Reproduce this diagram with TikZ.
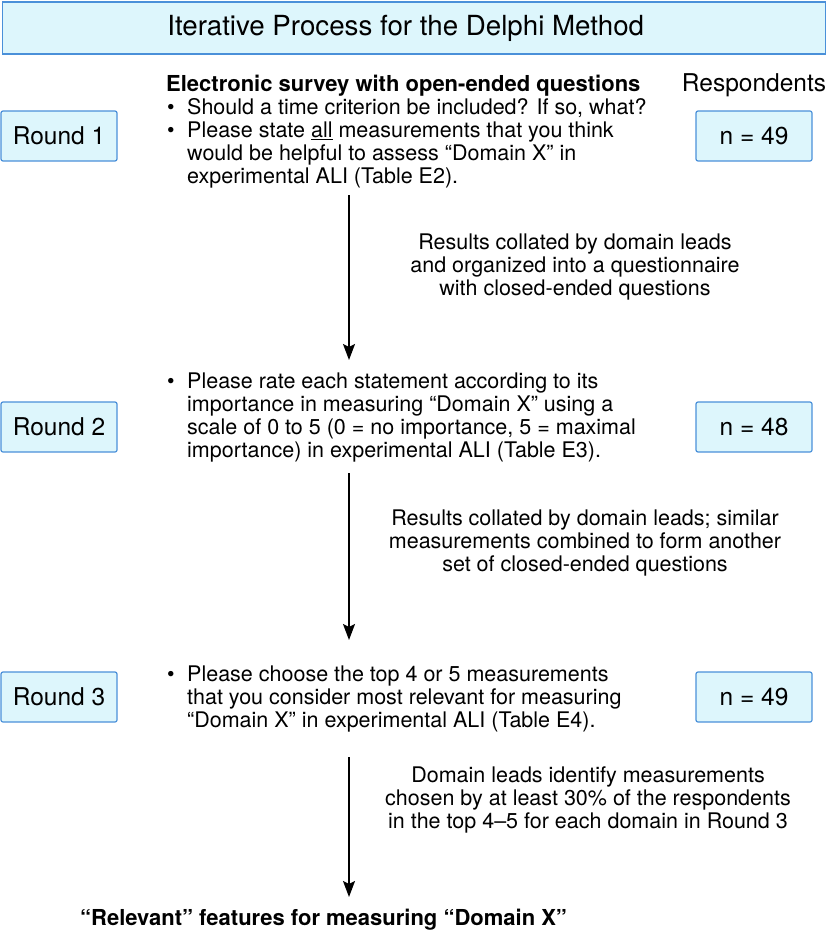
\documentclass[tikz,border=0pt]{standalone}
\usepackage{fontspec}
\setmainfont{TeX Gyre Heros}
\usetikzlibrary{arrows.meta}
\definecolor{boxfill}{RGB}{221,246,252}
\definecolor{boxdraw}{RGB}{74,144,217}
\begin{document}
\begin{tikzpicture}[x=1pt,y=-1pt,
  every node/.style={font=\fontsize{21.5}{23}\selectfont, inner sep=0pt},
  titlebox/.style={draw=boxdraw, fill=boxfill, line width=1.5pt, minimum width=823pt, minimum height=52pt, font=\fontsize{27.7}{30}\selectfont},
  roundbox/.style={draw=boxdraw, fill=boxfill, line width=1.2pt, rounded corners=2pt, minimum width=116pt, minimum height=50pt, font=\fontsize{24.5}{28}\selectfont},
  bigtext/.style={font=\fontsize{24.5}{28}\selectfont},
  boldtext/.style={font=\fontsize{22}{23}\selectfont\bfseries},
  block/.style={anchor=north west, align=left},
  label/.style={anchor=north, align=center},
  flow/.style={line width=1.6pt, -{Stealth[length=16pt,width=12pt,inset=3pt]}}]
\useasboundingbox (0,0) rectangle (827,934);
\newcommand{\bul}{\makebox[20pt][l]{\textbullet}}
\newcommand{\ind}{\hspace*{20pt}}
\node[titlebox, anchor=north west] (title) at (1.5,1.5) {\hspace*{-16pt}Iterative Process for the Delphi Method};
\node[bigtext, anchor=base] (resp) at (754,91) {Respondents};
\node[boldtext, anchor=base west] (head) at (166,91) {Electronic survey with open-ended questions};
\node[roundbox] (r1) at (59,136) {Round 1};
\node[roundbox] (n1) at (754,136) {n = 49};
\node[block] (t1) at (167,98.5) {\bul Should a time criterion be included? If so, what?\\
\bul Please state \underline{all} measurements that you think\\
\ind would be helpful to assess “Domain X” in\\
\ind experimental ALI (Table E2).};
\node[label] (l1) at (575,233.5) {Results collated by domain leads\\and organized into a questionnaire\\with closed-ended questions};
\node[roundbox] (r2) at (59,427) {Round 2};
\node[roundbox] (n2) at (754,427) {n = 48};
\node[block] (t2) at (167,372.5) {\bul Please rate each statement according to its\\
\ind importance in measuring “Domain X” using a\\
\ind scale of 0 to 5 (0 = no importance, 5 = maximal\\
\ind importance) in experimental ALI (Table E3).};
\node[label] (l2) at (585,509.5) {Results collated by domain leads; similar\\measurements combined to form another\\set of closed-ended questions};
\node[roundbox] (r3) at (59,697) {Round 3};
\node[roundbox] (n3) at (754,697) {n = 49};
\node[block] (t3) at (167,665.5) {\bul Please choose the top 4 or 5 measurements\\
\ind that you consider most relevant for measuring\\
\ind “Domain X” in experimental ALI (Table E4).};
\node[label] (l3) at (588,766.5) {Domain leads identify measurements\\chosen by at least 30\% of the respondents\\in the top 4–5 for each domain in Round 3};
\node[boldtext, anchor=base west] (final) at (80,925) {“Relevant” features for measuring “Domain X”};
\coordinate (a1s) at (349,195); \coordinate (a1e) at (349,360);
\coordinate (a2s) at (349,473); \coordinate (a2e) at (349,640);
\coordinate (a3s) at (349,757); \coordinate (a3e) at (349,897);
\draw[flow] (a1s) -- (a1e);
\draw[flow] (a2s) -- (a2e);
\draw[flow] (a3s) -- (a3e);
\end{tikzpicture}
\end{document}
